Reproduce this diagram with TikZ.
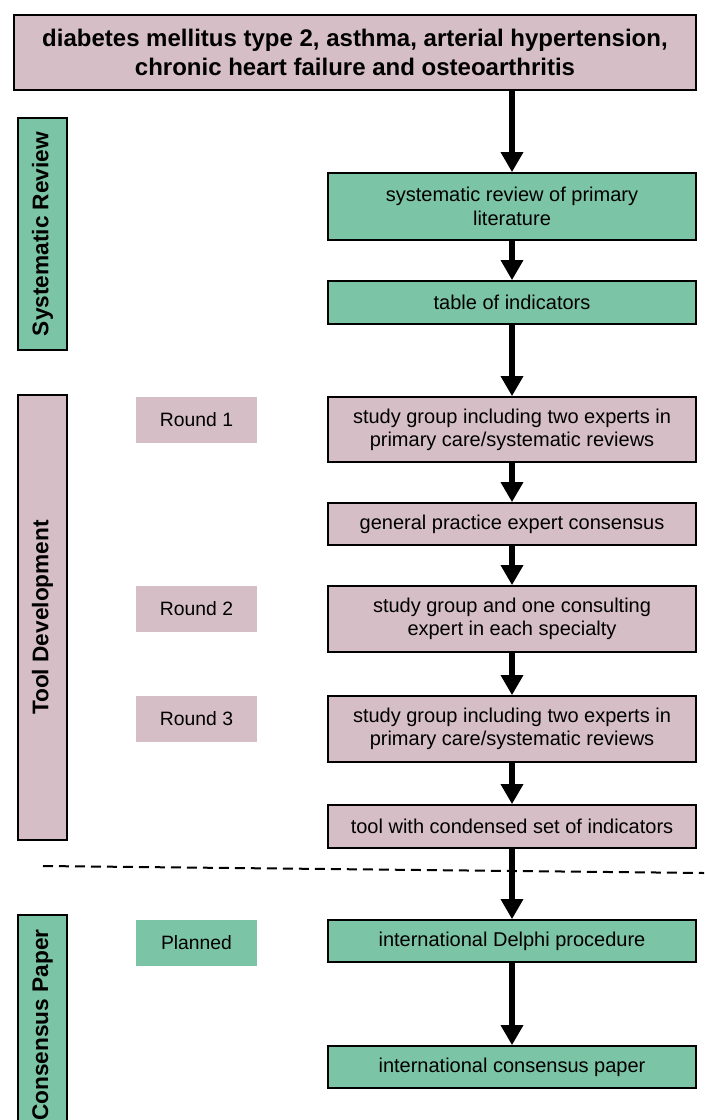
\documentclass[tikz,border=0pt]{standalone}
\usepackage{fontspec}
\setmainfont{Liberation Sans}
\usetikzlibrary{arrows.meta}
\definecolor{rosa}{RGB}{214,190,199}
\definecolor{mint}{RGB}{124,196,166}

\begin{document}
\begin{tikzpicture}[x=0.75pt,y=-0.75pt,>={Triangle[width=16pt,length=15pt]}]
\tikzstyle{step box}=[draw,line width=1.2pt,minimum width=276pt,align=center,inner sep=2pt,font=\fontsize{15}{17.5}\selectfont]%
\tikzstyle{round box}=[minimum width=90.75pt,minimum height=34.5pt,inner sep=0pt,font=\fontsize{14.5}{17}\selectfont]%
\tikzstyle{phase bar}=[draw,line width=1.2pt,minimum height=36.75pt,inner sep=0pt,rotate=90,font=\bfseries\fontsize{17}{20}\selectfont]%
\tikzstyle{flow}=[line width=4pt,->]%
\useasboundingbox (0,0) rectangle (704,1120);
% top box
\node[draw,line width=1.2pt,fill=rosa,minimum width=511.5pt,minimum height=56.25pt,align=center,font=\bfseries\fontsize{18}{21.5}\selectfont] (disease) at (355,52.5) {diabetes mellitus type 2, asthma, arterial hypertension,\\chronic heart failure and osteoarthritis};
% phases
\node[phase bar,fill=mint,minimum width=174pt] (sr) at (42.5,234) {Systematic Review};
\node[phase bar,fill=rosa,minimum width=333.75pt] (td) at (42.5,617.5) {Tool Development};
\node[phase bar,fill=mint,minimum width=165pt] (cp) at (42.5,1025) {Consensus Paper};
% rounds
\node[round box,fill=rosa] (r1) at (196.5,420) {Round 1};
\node[round box,fill=rosa] (r2) at (196.5,609) {Round 2};
\node[round box,fill=rosa] (r3) at (196.5,719) {Round 3};
\node[round box,fill=mint] (plan) at (196.5,943) {Planned};
% steps
\node[step box,fill=mint,minimum height=50.25pt] (review) at (512,206.5) {systematic review of primary\\literature};
\node[step box,fill=mint,minimum height=32.25pt] (table) at (512,302.5) {table of indicators};
\node[step box,fill=rosa,minimum height=48.75pt] (group1) at (512,429.5) {study group including two experts in\\primary care/systematic reviews};
\node[step box,fill=rosa,minimum height=31.5pt] (gp) at (512,524) {general practice expert consensus};
\node[step box,fill=rosa,minimum height=49.5pt] (group2) at (512,619) {study group and one consulting\\expert in each specialty};
\node[step box,fill=rosa,minimum height=49.5pt] (group3) at (512,729) {study group including two experts in\\primary care/systematic reviews};
\node[step box,fill=rosa,minimum height=32.25pt] (tool) at (512,826.5) {tool with condensed set of indicators};
\node[step box,fill=mint,minimum height=31.5pt] (delphi) at (512,941) {international Delphi procedure};
\node[step box,fill=mint,minimum height=31.5pt] (paper) at (512,1067) {international consensus paper};
% arrows
\draw[flow] (disease.south -| review.north) -- (review.north);
\foreach \a/\b in {review/table,table/group1,group1/gp,gp/group2,group2/group3,group3/tool,tool/delphi,delphi/paper}
\draw[flow] (\a.south) -- (\b.north);
% separator
\coordinate (sepL) at (43,866);
\coordinate (sepR) at (704,873);
\draw[line width=1.5pt,dash pattern=on 7.5pt off 4.5pt] (sepL) -- (sepR);
\end{tikzpicture}
\end{document}
